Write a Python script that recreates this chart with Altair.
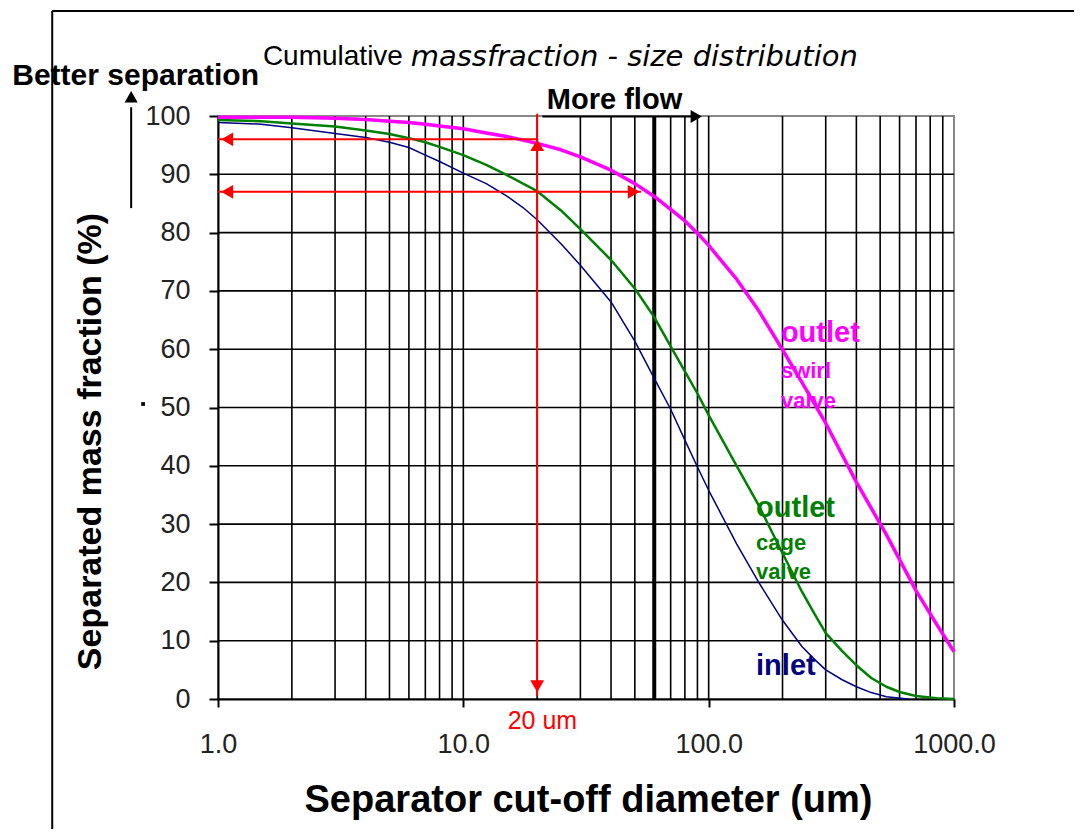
import altair as alt
import pandas as pd

# ---------------- data ----------------
inlet_d = [1, 1.5, 2, 3, 4, 5, 6, 7, 8, 10, 12.4, 15, 17.5, 20, 25, 30, 40, 50, 60, 70, 80, 90,
           100, 130, 160, 200, 240, 270, 300, 350, 400, 460, 530, 650]
inlet_v = [98.9, 98.6, 98.0, 97.0, 96.3, 95.5, 94.6, 93.3, 92.2, 90.2, 88.4, 86.3, 84.3, 82.2,
           78.1, 74.4, 68.1, 61.4, 55.0, 49.7, 44.4, 39.8, 35.8, 26.6, 20.0, 13.5, 9.0, 6.8,
           5.0, 3.3, 2.1, 1.1, 0.4, 0.0]

cage_d = [1, 1.5, 2, 3, 4, 5, 6, 7, 8, 10, 12.4, 15, 20, 25, 30, 40, 50, 60, 70, 80, 90,
          100, 130, 160, 200, 240, 270, 300, 350, 400, 460, 530, 600, 700, 850, 1000]
cage_v = [99.3, 99.1, 98.7, 98.2, 97.5, 96.9, 96.2, 95.5, 94.7, 93.3, 91.6, 89.9, 87.1,
          83.8, 80.6, 75.3, 70.4, 65.5, 60.5, 56.2, 52.4, 48.7, 40.0, 33.2, 25.0, 18.4, 14.6,
          11.3, 8.2, 5.8, 3.6, 2.1, 1.2, 0.5, 0.15, 0.0]

swirl_d = [1, 1.5, 2, 3, 4, 5, 6, 7, 8, 10, 12.4, 15, 20, 25, 30, 40, 50, 60, 70, 80, 90,
           100, 130, 160, 200, 240, 300, 400, 530, 700, 850, 1000]
swirl_v = [99.8, 99.8, 99.8, 99.6, 99.4, 99.1, 98.9, 98.6, 98.3, 97.8, 97.1, 96.5, 95.3,
           94.2, 93.0, 90.7, 88.4, 86.2, 84.0, 82.0, 79.9, 77.8, 72.0, 66.6, 59.9, 54.3, 47.3,
           37.2, 28.2, 18.6, 12.8, 8.1]

series_names = ["inlet", "outlet cage valve", "outlet swirl valve"]
series_colors = ["#000080", "#008000", "#FF00FF"]
series_widths = [1.5, 3.5, 3.5]

x_ticks = [1, 10, 100, 1000]
y_ticks = [0, 10, 20, 30, 40, 50, 60, 70, 80, 90, 100]
x_grid = [2, 3, 4, 5, 6, 7, 8, 9, 10, 20, 30, 40, 50, 60, 70, 80, 90, 100,
          200, 300, 400, 500, 600, 700, 800, 900]
y_grid = [10, 20, 30, 40, 50, 60, 70, 80, 90]
flow_line_d = 60

# red construction lines (cut-off 20 um)
red_x = [20, 1, 1]
red_x2 = [20, 20, 53]
red_y = [100.4, 96.0, 87.0]
red_y2 = [0.5, 96.0, 87.0]
red_head_x = [1.09, 1.09, 49.5, 20, 20]
red_head_y = [96.0, 87.0, 87.0, 95.0, 2.2]
red_head_shape = ["triangle-left", "triangle-left", "triangle-right", "triangle-up", "triangle-down"]

# black annotation arrows ("More flow", "Better separation")
blk_x = [21.0, 0.4426]
blk_x2 = [88.0, 0.4426]
blk_y = [99.9, 84.2]
blk_y2 = [99.9, 101.5]
blk_head_x = [89.0, 0.4426]
blk_head_y = [99.9, 103.3]
blk_head_shape = ["triangle-right", "triangle-up"]

# figure frame (left and top edge)
frame_x = [0.211, 0.211]
frame_x2 = [0.211, 5000]
frame_y = [118.0, 118.0]
frame_y2 = [-40.0, 118.0]

# texts
bold_text = ["Better separation", "More flow"]
bold_x = [0.145, 21.9]
bold_y = [106.9, 102.7]
bold_size = [30, 29]

title_plain = ["Cumulative"]
title_plain_x = [1.524]
title_plain_y = [110.2]
title_ital = ["massfraction - size distribution"]
title_ital_x = [6.1]
title_ital_y = [110.2]

lab_text = ["outlet", "swirl", "valve", "outlet", "cage", "valve", "inlet"]
lab_x = [197, 197, 197, 156, 156, 156, 156]
lab_y = [62.8, 56.3, 51.1, 32.8, 26.8, 21.8, 5.7]
lab_size = [29, 22, 22, 29, 22, 22, 29]
lab_color = ["#FF00FF", "#FF00FF", "#FF00FF", "#008000", "#008000", "#008000", "#000080"]

cut_text = ["20 um"]
cut_x = [21.0]
cut_y = [-3.7]

dot_x = [0.495]
dot_y = [50.6]

# ---------------- tables ----------------
rows = []
for name, ds, vs in zip(series_names, [inlet_d, cage_d, swirl_d], [inlet_v, cage_v, swirl_v]):
    for d, v in zip(ds, vs):
        rows.append({"x": d, "y": v, "series": name})
curves = pd.DataFrame(rows)

xs = alt.Scale(type="log", domain=[1, 1000], nice=False)
ys = alt.Scale(domain=[0, 100], nice=False)

X = alt.X("x:Q", scale=xs, axis=alt.Axis(
    values=x_ticks, format=".1f", grid=False, tickSize=8, tickColor="black", tickWidth=2,
    domainColor="black", domainWidth=2, labelFontSize=27, labelColor="#222",
    labelPadding=24, labelFlush=False, labelOverlap=False, labelBound=False,
    title="Separator cut-off diameter (um)", titleFontSize=38, titleFontWeight="bold",
    titleColor="black", titleX=370, titleY=101, titleBaseline="middle", titleAlign="center"))
Y = alt.Y("y:Q", scale=ys, axis=alt.Axis(
    values=y_ticks, format="d", grid=False, tickSize=9, tickColor="black", tickWidth=2,
    domainColor="black", domainWidth=2, labelFontSize=27, labelColor="#222",
    labelPadding=19, labelFlush=False, labelOverlap=False, labelBound=False,
    title="Separated mass fraction (%)", titleFontSize=34, titleFontWeight="bold",
    titleColor="black", titleX=-128, titleY=325, titleAngle=-90, titleBaseline="middle",
    titleAlign="center"))

vgrid = alt.Chart(pd.DataFrame({"x": x_grid})).mark_rule(color="black", strokeWidth=1.6).encode(
    x=X, y=alt.datum(0), y2=alt.datum(100))
hgrid = alt.Chart(pd.DataFrame({"y": y_grid})).mark_rule(color="black", strokeWidth=1.6).encode(
    y=Y, x=alt.datum(1), x2=alt.datum(1000))
flow = alt.Chart(pd.DataFrame({"x": [flow_line_d]})).mark_rule(color="black", strokeWidth=4).encode(
    x=X, y=alt.datum(0), y2=alt.datum(100))

lines = alt.Chart(curves).mark_line(interpolate="linear", strokeJoin="round").encode(
    x=X, y=Y,
    color=alt.Color("series:N", scale=alt.Scale(domain=series_names, range=series_colors), legend=None),
    strokeWidth=alt.StrokeWidth("series:N", scale=alt.Scale(domain=series_names, range=series_widths), legend=None),
)

red = alt.Chart(pd.DataFrame({"x": red_x, "x2": red_x2, "y": red_y, "y2": red_y2})).mark_rule(
    color="#FF0000", strokeWidth=2).encode(x=X, x2="x2:Q", y=Y, y2="y2:Q")
red_heads = alt.Chart(pd.DataFrame({"x": red_head_x, "y": red_head_y, "s": red_head_shape})).mark_point(
    filled=True, color="#FF0000", opacity=1, size=190).encode(x=X, y=Y, shape=alt.Shape("s:N", scale=None))

blk = alt.Chart(pd.DataFrame({"x": blk_x, "x2": blk_x2, "y": blk_y, "y2": blk_y2})).mark_rule(
    color="black", strokeWidth=2).encode(x=X, x2="x2:Q", y=Y, y2="y2:Q")
blk_heads = alt.Chart(pd.DataFrame({"x": blk_head_x, "y": blk_head_y, "s": blk_head_shape})).mark_point(
    filled=True, color="black", opacity=1, size=170).encode(x=X, y=Y, shape=alt.Shape("s:N", scale=None))

frame = alt.Chart(pd.DataFrame({"x": frame_x, "x2": frame_x2, "y": frame_y, "y2": frame_y2})).mark_rule(
    color="black", strokeWidth=2).encode(x=X, x2="x2:Q", y=Y, y2="y2:Q")

t_bold = alt.Chart(pd.DataFrame({"x": bold_x, "y": bold_y, "t": bold_text, "sz": bold_size})).mark_text(
    align="left", baseline="middle", fontWeight="bold", color="black").encode(
    x=X, y=Y, text="t:N", size=alt.Size("sz:Q", scale=None))
t_title = alt.Chart(pd.DataFrame({"x": title_plain_x, "y": title_plain_y, "t": title_plain})).mark_text(
    align="left", baseline="middle", fontSize=28, color="black").encode(x=X, y=Y, text="t:N")
t_ital = alt.Chart(pd.DataFrame({"x": title_ital_x, "y": title_ital_y, "t": title_ital})).mark_text(
    align="left", baseline="middle", fontSize=29, fontStyle="italic", font="DejaVu Sans",
    color="black").encode(x=X, y=Y, text="t:N")
t_lab = alt.Chart(pd.DataFrame({"x": lab_x, "y": lab_y, "t": lab_text, "sz": lab_size, "c": lab_color})).mark_text(
    align="left", baseline="middle", fontWeight="bold").encode(
    x=X, y=Y, text="t:N", size=alt.Size("sz:Q", scale=None), color=alt.Color("c:N", scale=None))
t_cut = alt.Chart(pd.DataFrame({"x": cut_x, "y": cut_y, "t": cut_text})).mark_text(
    align="center", baseline="middle", fontSize=25, color="#FF0000").encode(x=X, y=Y, text="t:N")
dot = alt.Chart(pd.DataFrame({"x": dot_x, "y": dot_y})).mark_square(
    size=14, color="black", opacity=1).encode(x=X, y=Y)

chart = alt.layer(
    vgrid, hgrid, flow, lines, red, red_heads, blk, blk_heads, frame,
    t_bold, t_title, t_ital, t_lab, t_cut, dot
).properties(
    width=736, height=583,
    autosize=alt.AutoSizeParams(type="none"),
    padding={"left": 210, "top": 108, "right": 120, "bottom": 130},
    background="white",
).configure(font="Liberation Sans").configure_view(stroke="#888888", strokeWidth=2)

chart.save("out.html", embed_options={"renderer": "svg", "actions": False})
